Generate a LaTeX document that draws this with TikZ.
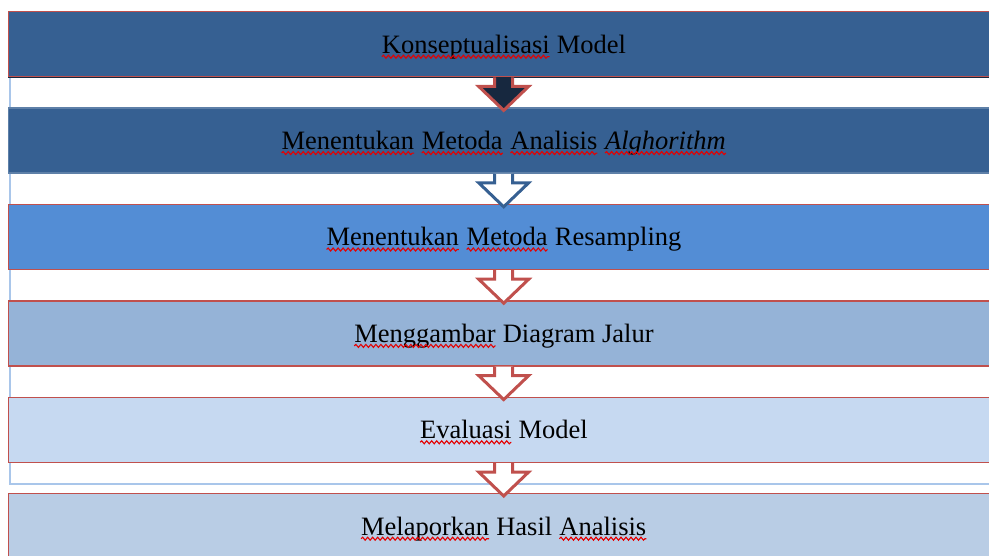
\documentclass[tikz,border=0pt]{standalone}
\usepackage{fontspec}
\setmainfont{Liberation Serif}
\usetikzlibrary{positioning,calc,decorations.pathmorphing}
\definecolor{deepblue}{HTML}{366092}
\definecolor{midblue}{HTML}{538DD5}
\definecolor{paleblue}{HTML}{95B3D7}
\definecolor{lightblue}{HTML}{C6D9F1}
\definecolor{greyblue}{HTML}{B9CDE5}
\definecolor{framblue}{HTML}{A9C6EA}
\definecolor{boxred}{HTML}{C0504D}
\definecolor{navy}{HTML}{17283F}
\tikzset{
  stage/.style={rectangle, minimum width=990pt, minimum height=65pt, inner sep=0pt,
    draw=boxred, line width=1.4pt, text height=20pt, text depth=2pt,
    font=\fontsize{26.5}{30}\selectfont},
  squiggle/.style={red!90!black, line width=1.1pt, decorate,
    decoration={snake, amplitude=1.5pt, segment length=5pt}}
}
% red wavy mark under a word
\newcommand{\typo}[1]{\tikz[baseline=(w.base)]{\node[rectangle, inner sep=0pt, outer sep=0pt,
  minimum width=0pt, minimum height=0pt, draw=none, fill=none, text height=, text depth=] (w) {#1};
  \draw[squiggle] ([yshift=-3.5pt]w.base west) -- ([yshift=-3.5pt]w.base east);}}
% block arrow: fill, outline, from node, to node
\newcommand{\blockarrow}[4]{%
  \path ($(#3.south)+(-9,0)$) coordinate (s1) ($(#4.north)+(-9,-21)$) coordinate (s2)
        ($(#4.north)+(-25,-21)$) coordinate (s3) ($(#4.north)+(0,3)$) coordinate (s4)
        ($(#4.north)+(25,-21)$) coordinate (s5) ($(#4.north)+(9,-21)$) coordinate (s6)
        ($(#3.south)+(9,0)$) coordinate (s7);
  \fill[#1] (s1) -- (s2) -- (s3) -- (s4) -- (s5) -- (s6) -- (s7) -- cycle;
  \draw[#2, line width=3pt, line join=miter] (s1) -- (s2) -- (s3) -- (s4) -- (s5) -- (s6) -- (s7);}

\begin{document}
\begin{tikzpicture}[x=1pt, y=-1pt, node distance=30pt]
\useasboundingbox (0,0) rectangle (989,556);

% frame behind the stages
\draw[framblue, line width=1.2pt] (10,60) rectangle (1005,484);

\node [stage, fill=deepblue, anchor=north west] (konsep) at (8,11) {\typo{Konseptualisasi} Model};
\node [stage, fill=deepblue, draw=deepblue!80!white, below=of konsep] (metoda)
  {\typo{Menentukan} \typo{Metoda} \typo{Analisis} \typo{\textit{Alghorithm}}};
\node [stage, fill=midblue, below=of metoda] (resampling) {\typo{Menentukan} \typo{Metoda} Resampling};
\node [stage, fill=paleblue, below=of resampling] (jalur) {\typo{Menggambar} Diagram Jalur};
\node [stage, fill=lightblue, below=of jalur] (evaluasi) {\typo{Evaluasi} Model};
\node [stage, fill=greyblue, below=of evaluasi] (laporan) {\typo{Melaporkan} Hasil \typo{Analisis}};
\draw[navy, line width=1.4pt] (konsep.south west) -- (konsep.south east);

\blockarrow{navy}{boxred}{konsep}{metoda}
\blockarrow{white}{deepblue}{metoda}{resampling}
\blockarrow{white}{boxred}{resampling}{jalur}
\blockarrow{white}{boxred}{jalur}{evaluasi}
\blockarrow{white}{boxred}{evaluasi}{laporan}

\end{tikzpicture}
\end{document}
